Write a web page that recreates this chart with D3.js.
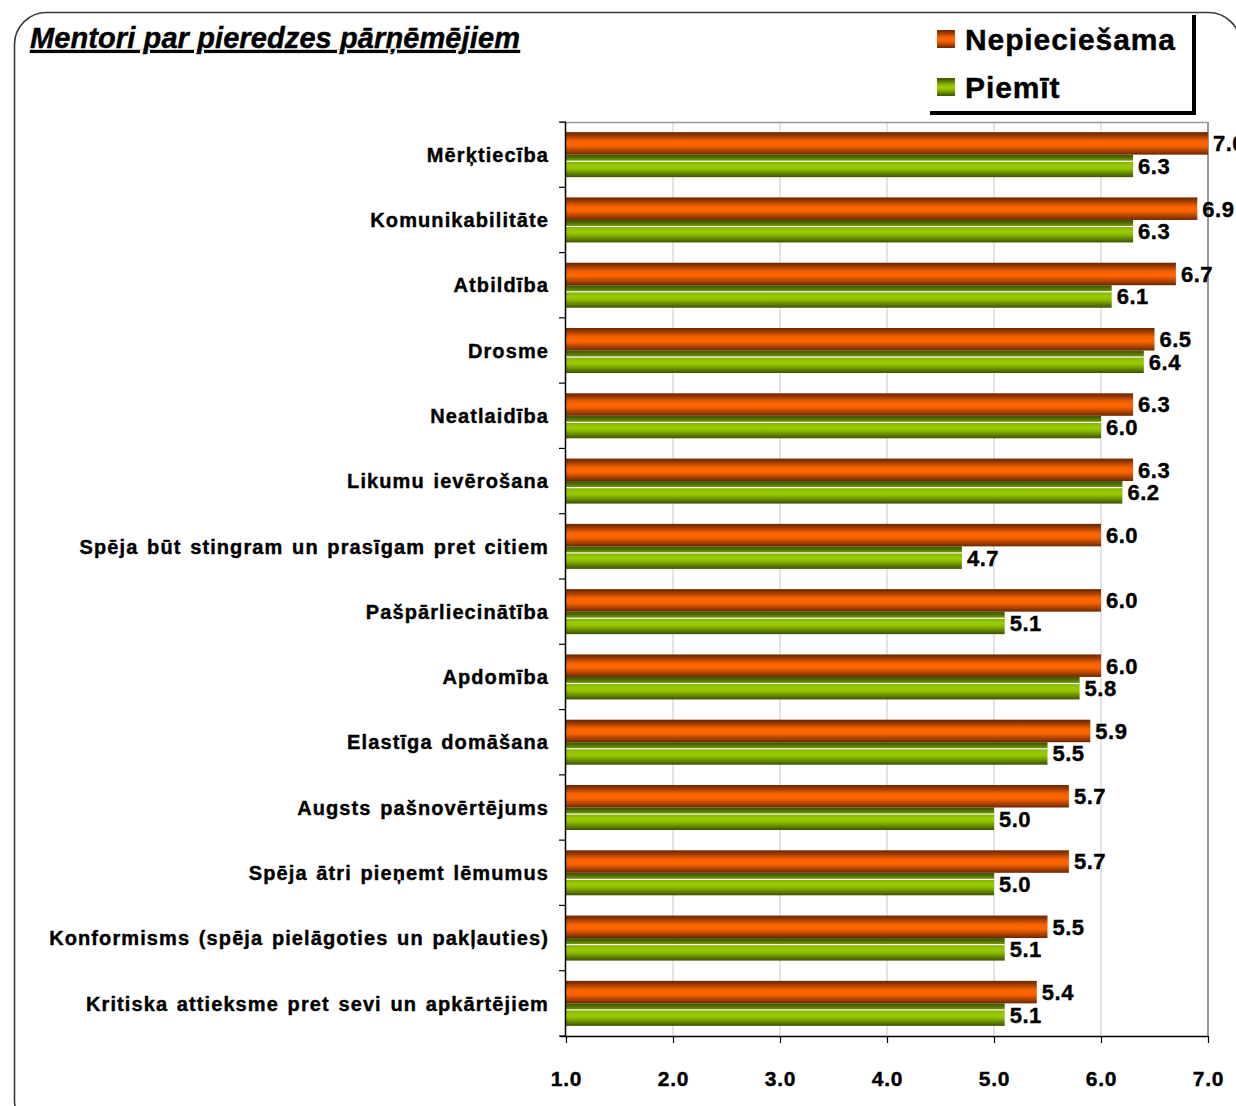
<!DOCTYPE html>
<html>
<head>
<meta charset="utf-8">
<script src="https://cdn.jsdelivr.net/npm/d3@7/dist/d3.min.js"></script>
<style>
  html, body { margin: 0; padding: 0; background: #fff; }
  svg { display: block; }
  svg text { font-family: "Liberation Sans", Arial, Helvetica, sans-serif; font-weight: 700; }
  svg text.heavy { stroke: #000; stroke-width: 0.4px; }
</style>
</head>
<body>
<svg id="chart" width="1236" height="1106"></svg>
<script>
// Qualities of mentors: how needed (Nepiecie\u0161ama) vs. how present (Piem\u012bt)
const categories = [
  "Mērķtiecība",
  "Komunikabilitāte",
  "Atbildība",
  "Drosme",
  "Neatlaidība",
  "Likumu ievērošana",
  "Spēja būt stingram un prasīgam pret citiem",
  "Pašpārliecinātība",
  "Apdomība",
  "Elastīga domāšana",
  "Augsts pašnovērtējums",
  "Spēja ātri pieņemt lēmumus",
  "Konformisms (spēja pielāgoties un pakļauties)",
  "Kritiska attieksme pret sevi un apkārtējiem"
];
const needed  = [7.0, 6.9, 6.7, 6.5, 6.3, 6.3, 6.0, 6.0, 6.0, 5.9, 5.7, 5.7, 5.5, 5.4];
const present = [6.3, 6.3, 6.1, 6.4, 6.0, 6.2, 4.7, 5.1, 5.8, 5.5, 5.0, 5.0, 5.1, 5.1];
const seriesNames = ["Nepiecie\u0161ama", "Piem\u012bt"];
const xTicks = [1, 2, 3, 4, 5, 6, 7];
const titleText = "Mentori par pieredzes pārņēmējiem";

const FONT = "Liberation Sans, Arial, Helvetica, sans-serif";
const svg = d3.select("#chart");
const defs = svg.append("defs");

// Cylinder-like shading for each series
function shade(id, stops) {
  const g = defs.append("linearGradient").attr("id", id)
    .attr("x1", 0).attr("y1", 0).attr("x2", 0).attr("y2", 1);
  stops.forEach(([o, c]) => g.append("stop").attr("offset", o).attr("stop-color", c));
}
shade("gOrange", [[0, "#6e2800"], [0.12, "#8a3400"], [0.25, "#c04a00"], [0.38, "#f06000"],
                  [0.5, "#ff6600"], [0.62, "#f86200"], [0.75, "#c84e00"], [0.88, "#9a3a00"], [1, "#6a2600"]]);
shade("gGreen", [[0, "#3f5500"], [0.12, "#4e6a00"], [0.25, "#6f9400"], [0.38, "#8cbc00"],
                 [0.5, "#99cc00"], [0.62, "#92c200"], [0.75, "#76a000"], [0.88, "#587800"], [1, "#3c5000"]]);
const fills = ["url(#gOrange)", "url(#gGreen)"];

// Outer rounded frame
svg.append("rect")
  .attr("x", 14.5).attr("y", 12.5)
  .attr("width", 1226).attr("height", 1120)
  .attr("rx", 32).attr("ry", 32)
  .attr("fill", "none").attr("stroke", "#3a3a3a").attr("stroke-width", 1.6);

// Title
svg.append("text")
  .attr("class", "heavy")
  .attr("x", 30).attr("y", 48)
  .attr("font-family", FONT)
  .attr("font-size", 29).attr("font-weight", "bold").attr("font-style", "italic")
  .attr("letter-spacing", 0.1)
  .attr("text-decoration", "underline")
  .attr("fill", "#000")
  .text(titleText);

// Scales
const plot = { left: 566, right: 1208, top: 122, bottom: 1036 };
const x = d3.scaleLinear().domain([1, 7]).range([plot.left, plot.right]);
const y = d3.scaleBand().domain(categories).range([plot.top, plot.bottom]).padding(0);
const ySub = d3.scaleBand().domain(seriesNames).range([0, y.bandwidth()])
  .paddingInner(0).paddingOuter(0.45);

// Vertical gridlines
svg.append("g").selectAll("line")
  .data(xTicks.filter(t => t > 1 && t < 7))
  .join("line")
  .attr("x1", d => x(d)).attr("x2", d => x(d))
  .attr("y1", plot.top).attr("y2", plot.bottom)
  .attr("stroke", "#c8c8c8").attr("stroke-width", 1);

// Plot frame (top and right)
svg.append("line")
  .attr("x1", plot.left - 6).attr("x2", plot.right)
  .attr("y1", plot.top + 0.5).attr("y2", plot.top + 0.5)
  .attr("stroke", "#999").attr("stroke-width", 1.5);
svg.append("line")
  .attr("x1", plot.right).attr("x2", plot.right)
  .attr("y1", plot.top).attr("y2", plot.bottom)
  .attr("stroke", "#999").attr("stroke-width", 2);

// Bars
const rows = categories.map((c, i) => ({ cat: c, vals: [needed[i], present[i]] }));
const groups = svg.append("g").selectAll("g")
  .data(rows).join("g")
  .attr("transform", d => `translate(0,${y(d.cat)})`);

groups.selectAll("rect.bar")
  .data(d => d.vals.map((v, k) => ({ v, k, s: seriesNames[k] })))
  .join("rect")
  .attr("class", "bar")
  .attr("x", x(1))
  .attr("y", d => ySub(d.s))
  .attr("width", d => x(d.v) - x(1))
  .attr("height", ySub.bandwidth())
  .attr("fill", d => fills[d.k]);

// thin highlight seam near the top of the green bar
groups.append("rect")
  .attr("x", x(1))
  .attr("y", d => ySub(seriesNames[1]) + 6)
  .attr("width", d => x(d.vals[1]) - x(1))
  .attr("height", 1.2)
  .attr("fill", "#ffffff");

// Value labels
groups.selectAll("text.val")
  .data(d => d.vals.map((v, k) => ({ v, k, s: seriesNames[k] })))
  .join("text")
  .attr("class", "val heavy")
  .attr("x", d => x(d.v) + 5)
  .attr("y", d => ySub(d.s) + ySub.bandwidth() / 2)
  .attr("dy", "0.36em")
  .attr("font-family", FONT)
  .attr("font-size", 22).attr("font-weight", "bold")
  .attr("letter-spacing", 0.5)
  .attr("fill", "#000")
  .text(d => d3.format(".1f")(d.v));

// Category axis (left)
const yAxis = svg.append("g");
yAxis.append("line")
  .attr("x1", plot.left - 0.5).attr("x2", plot.left - 0.5)
  .attr("y1", plot.top).attr("y2", plot.bottom)
  .attr("stroke", "#000").attr("stroke-width", 1.5);
const boundaries = categories.map(c => y(c)).concat([plot.bottom]);
yAxis.selectAll("line.tick")
  .data(boundaries).join("line")
  .attr("class", "tick")
  .attr("x1", plot.left - 7).attr("x2", plot.left)
  .attr("y1", d => d).attr("y2", d => d)
  .attr("stroke", "#000").attr("stroke-width", 1.2);
yAxis.selectAll("text")
  .data(categories).join("text")
  .attr("class", "heavy")
  .attr("x", 549)
  .attr("y", d => y(d) + y.bandwidth() / 2)
  .attr("dy", "0.36em")
  .attr("text-anchor", "end")
  .attr("font-family", FONT)
  .attr("font-size", 20).attr("font-weight", "bold")
  .attr("letter-spacing", 1.1)
  .attr("word-spacing", 2)
  .attr("fill", "#000")
  .text(d => d);

// Value axis (bottom)
const xAxis = svg.append("g")
  .attr("transform", `translate(0,${plot.bottom})`)
  .call(d3.axisBottom(x).tickValues(xTicks).tickFormat(d3.format(".1f")).tickSize(7).tickPadding(28));
xAxis.select(".domain").attr("stroke", "#000").attr("stroke-width", 1.5)
  .attr("d", `M${plot.left - 6},0.5H${plot.right}`);
xAxis.selectAll(".tick line").attr("stroke", "#000").attr("stroke-width", 1.2);
xAxis.selectAll(".tick text")
  .attr("class", "heavy")
  .attr("font-family", FONT)
  .attr("font-size", 21).attr("font-weight", "bold")
  .attr("letter-spacing", 0.8)
  .attr("fill", "#000");

// Legend
const legend = svg.append("g");
legend.append("rect")
  .attr("x", 928).attr("y", 14).attr("width", 264).attr("height", 97)
  .attr("fill", "#fff");
legend.append("path")
  .attr("d", "M930,113H1194V15")
  .attr("fill", "none").attr("stroke", "#000").attr("stroke-width", 4);
const legItems = legend.selectAll("g.item")
  .data(seriesNames).join("g")
  .attr("class", "item")
  .attr("transform", (d, i) => `translate(937,${30 + i * 48})`);
legItems.append("rect")
  .attr("width", 18).attr("height", 18)
  .attr("fill", (d, i) => fills[i]);
legItems.append("text")
  .attr("class", "heavy")
  .attr("x", 28).attr("y", 20)
  .attr("font-family", FONT)
  .attr("font-size", 30).attr("font-weight", "bold")
  .attr("letter-spacing", 0.9)
  .attr("fill", "#000")
  .text(d => d);
</script>
</body>
</html>
